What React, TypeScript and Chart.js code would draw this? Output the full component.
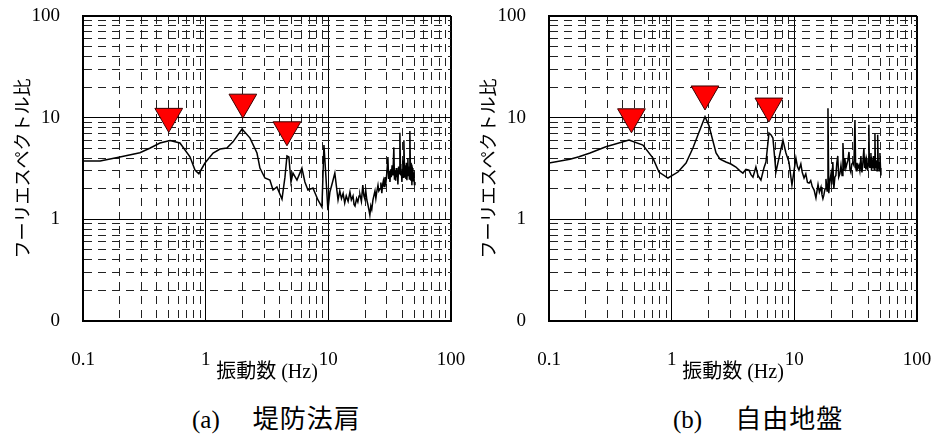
import React, { useEffect, useRef } from 'react';
import { Chart, registerables } from 'chart.js';

Chart.register(...registerables);

// ---- axis / tick data ----
const decadeValues = [0.1, 1, 10, 100];
const xTickLabels = ['0.1', '1', '10', '100'];
const yTickLabels = ['0', '1', '10', '100'];
const xTitle = '振動数 (Hz)';
const yTitle = 'フーリエスペクトル比';
const captionLabelA = '(a)';
const captionTextA = '堤防法肩';
const captionLabelB = '(b)';
const captionTextB = '自由地盤';

// ---- (a) 堤防法肩 ----
const freqA = [0.1, 0.138, 0.2, 0.291, 0.35, 0.424, 0.512, 0.617, 0.745, 0.818,
  0.88, 0.987, 1.15, 1.31, 1.49, 1.67, 1.98, 2.3, 2.62, 2.77,
  3.04, 3.34, 3.54, 3.81, 4.19, 4.43, 4.6, 4.77, 4.96, 5.15,
  5.55, 6.09, 6.44, 6.82, 7.49, 8.23, 8.87, 9.21, 9.56, 9.92,
  10.3, 10.8, 11.3, 11.7, 12.0, 12.4, 12.8, 13.2, 13.6, 14.0,
  14.5, 15.0, 15.4, 15.9, 16.2, 16.5, 17.0, 17.4, 17.8, 18.1,
  18.6, 19.1, 19.5, 19.8, 20.2, 20.6, 21.0, 21.4, 21.8, 22.2,
  22.6, 23.1, 23.5, 24.0, 24.4, 24.8, 25.4, 25.8, 26.4, 26.8,
  27.3, 27.7, 28.1, 28.5, 28.9, 29.5, 30.0, 30.6, 31.0, 31.4,
  31.8, 32.2, 32.6, 33.1, 33.6, 34.2, 34.6, 34.9, 35.4, 35.8,
  36.2, 36.6, 36.9, 37.4, 37.8, 38.3, 38.7, 39.0, 39.4, 39.8,
  40.2, 40.5, 40.9, 41.3, 41.7, 42.1, 42.5, 42.9, 43.3, 43.7,
  44.1, 44.5, 44.9, 45.3, 45.8, 46.2, 46.6, 47.1, 47.5, 48.0,
  48.4, 48.9, 49.3, 49.8, 50.3, 50.8];
const ampA = [3.74, 3.74, 4.1, 4.52, 5.0, 5.63, 5.97, 5.63, 4.12, 3.05,
  2.81, 3.58, 4.49, 4.92, 5.03, 5.78, 7.73, 6.3, 4.49, 3.19,
  2.55, 2.43, 1.94, 2.08, 1.58, 2.6, 4.2, 4.1, 2.33, 2.85,
  2.43, 3.19, 2.33, 1.94, 2.03, 1.55, 1.32, 5.38, 2.6, 1.23,
  1.86, 2.3, 2.85, 2.0, 1.55, 1.9, 1.6, 1.8, 1.45, 1.7,
  1.5, 1.85, 1.55, 1.7, 1.4, 1.35, 1.6, 1.48, 1.7, 1.75,
  1.5, 2.17, 1.7, 1.6, 1.9, 1.55, 1.4, 1.25, 1.1, 1.35,
  1.25, 1.55, 1.7, 1.9, 1.6, 1.85, 2.17, 1.9, 2.0, 2.3,
  1.81, 2.2, 2.4, 2.1, 2.6, 2.3, 2.9, 4.1, 2.5, 3.0,
  2.33, 3.1, 2.6, 3.4, 2.7, 5.1, 2.5, 3.0, 2.4, 3.2,
  2.6, 3.0, 2.2, 3.3, 2.8, 7.1, 3.5, 2.7, 3.0, 2.33,
  3.1, 3.8, 2.6, 6.0, 3.4, 2.6, 3.2, 2.5, 3.6, 2.43,
  3.0, 4.0, 2.7, 3.3, 2.5, 7.4, 3.6, 2.4, 3.4, 2.17,
  3.2, 3.05, 2.4, 2.9, 2.2, 2.33];
const peakFreqA = [0.5, 2.01, 4.6];
const peakMarkA = [10.3, 14.2, 7.6];

// ---- (b) 自由地盤 ----
const freqB = [0.1, 0.148, 0.1756, 0.216, 0.291, 0.449, 0.583, 0.704, 0.788, 0.933,
  1.125, 1.31, 1.49, 1.67, 1.87, 2.01, 2.3, 2.48, 2.77, 3.04,
  3.34, 3.6, 3.81, 4.03, 4.27, 4.43, 4.6, 4.86, 5.05, 5.34,
  5.65, 5.87, 6.21, 6.44, 6.69, 7.08, 7.49, 8.07, 8.54, 9.04,
  9.56,
  10.3, 10.6, 10.9, 11.3, 11.6, 12.0, 12.4, 12.8, 13.2, 13.6,
  14.0, 14.5, 15.0, 15.3, 15.6, 16.0, 16.5, 16.8, 17.1, 17.4,
  17.8, 18.1, 18.5, 18.8, 19.1, 19.5, 19.9, 20.2, 20.6, 21.0,
  21.4, 21.8, 22.2, 22.6, 23.0, 23.5, 24.0, 24.5, 24.9, 25.4,
  25.8, 26.3, 26.8, 27.3, 27.9, 28.4, 28.9, 29.4, 30.0, 30.6,
  31.2, 31.6, 32.0, 32.4, 33.0, 33.6, 34.2, 34.9, 35.3, 35.6,
  36.2, 36.9, 37.4, 37.8, 38.3, 38.7, 39.1, 39.6, 40.0, 40.5,
  40.9, 41.3, 41.7, 42.1, 42.6, 43.1, 43.7, 44.2, 44.8, 45.4,
  45.8, 46.2, 46.7, 47.2, 47.6, 48.0, 48.4, 48.9, 49.4, 49.9,
  50.4, 50.8];
const ampB = [3.58, 3.9, 4.12, 4.49, 5.18, 6.02, 5.38, 4.0, 2.92, 2.55,
  2.92, 3.58, 5.03, 7.2, 10.2, 8.4, 4.5, 3.9, 3.66, 3.5,
  3.27, 3.0, 2.85, 3.1, 3.05, 2.75, 2.6, 3.27, 2.7, 2.43,
  3.2, 3.66, 7.06, 6.8, 6.3, 2.92, 4.0, 6.02, 4.49, 3.66,
  2.17,
  4.0, 3.3, 3.05, 3.5, 2.9, 2.55, 2.8, 2.3, 2.27, 2.4,
  2.1, 1.94, 1.62, 1.9, 2.2, 1.85, 2.08, 1.75, 1.6, 1.73,
  2.0, 2.5, 1.9, 12.4, 1.81, 2.4, 2.8, 2.2, 3.66, 2.0,
  2.6, 2.7, 3.6, 4.2, 2.6, 2.8, 3.4, 2.7, 5.63, 3.0,
  4.0, 3.19, 3.5, 3.8, 4.6, 3.1, 2.9, 3.5, 3.6, 3.4,
  9.5, 3.3, 3.0, 3.6, 3.2, 3.4, 3.0, 4.2, 3.1, 2.9,
  3.6, 5.03, 3.2, 3.6, 3.1, 4.0, 3.8, 3.0, 3.5, 8.5,
  3.4, 3.2, 4.0, 4.5, 3.0, 3.6, 3.19, 4.2, 3.1, 7.0,
  3.4, 3.2, 3.8, 3.0, 3.7, 6.8, 3.2, 3.66, 3.0, 4.5,
  3.2, 2.7];
const peakFreqB = [0.47, 1.87, 6.2];
const peakMarkB = [10.2, 17.1, 13.0];

const serif = '"Liberation Serif", "Times New Roman", "Noto Sans CJK JP", serif';
const gothic = '"Noto Sans CJK JP", "Noto Sans", sans-serif';

function gridValues(): number[] {
  const out: number[] = [];
  for (let d = 0; d < 3; d++) {
    for (let k = 1; k <= 9; k++) out.push(Number((decadeValues[d] * k).toPrecision(3)));
  }
  out.push(decadeValues[3]);
  return out;
}
const majorIndex = (v: number) => decadeValues.findIndex((d) => Math.abs(v - d) < 1e-9);
const isMajor = (v: number) => majorIndex(v) >= 0;

function logAxis(labels: string[], isX: boolean): any {
  return {
    type: 'logarithmic',
    position: isX ? 'bottom' : 'left',
    min: 0.1,
    max: 100,
    afterBuildTicks: (scale: any) => {
      scale.ticks = gridValues().map((v) => ({ value: v, major: false }));
    },
    afterFit: (scale: any) => {
      if (isX) scale.height = 70;
      else scale.width = 83;
      scale.paddingTop = 0;
      scale.paddingBottom = 0;
      scale.paddingLeft = 0;
      scale.paddingRight = 0;
    },
    grid: {
      drawTicks: false,
      color: (c: any) => (c.tick && !isMajor(c.tick.value) ? '#222' : '#000'),
      lineWidth: (c: any) => (c.tick && c.tick.value === 100 ? 2 : 1),
    },
    border: {
      display: true,
      color: '#000',
      width: 2,
      dash: (c: any) => (c.tick && !isMajor(c.tick.value) ? [8, 6] : []),
    },
    ticks: {
      autoSkip: false,
      maxRotation: 0,
      color: '#000',
      padding: isX ? 28 : 23,
      font: { family: serif, size: 19 },
      callback: (v: any) => {
        const i = majorIndex(Number(v));
        return i >= 0 ? labels[i] : '';
      },
    },
    title: isX
      ? { display: true, text: xTitle, color: '#000', font: { family: serif, size: 20 }, padding: { top: 0, bottom: 6 } }
      : { display: true, text: yTitle, color: '#000', font: { family: gothic, size: 18 }, padding: { top: 11, bottom: 0 } },
  };
}

function Panel(props: { freq: number[]; amp: number[]; pf: number[]; pm: number[]; left: number; width: number }) {
  const ref = useRef<HTMLCanvasElement | null>(null);
  useEffect(() => {
    if (!ref.current) return;
    const chart = new Chart(ref.current, {
      type: 'scatter',
      data: {
        datasets: [
          {
            data: props.pf.map((f, i) => ({ x: f, y: props.pm[i] })),
            showLine: false,
            pointStyle: 'triangle',
            rotation: 180,
            pointRadius: 16,
            backgroundColor: '#ff0000',
            borderColor: '#3a0000',
            borderWidth: 1,
            order: 0,
          },
          {
            data: props.freq.map((f, i) => ({ x: f, y: props.amp[i] })),
            showLine: true,
            borderColor: '#000',
            borderWidth: 1.5,
            pointRadius: 0,
            tension: 0,
            order: 1,
          },
        ],
      },
      options: {
        animation: false,
        responsive: false,
        maintainAspectRatio: false,
        devicePixelRatio: 1,
        events: [],
        layout: { autoPadding: false, padding: { left: 0, top: 16, right: props.width - 451, bottom: 4 } },
        plugins: { legend: { display: false }, tooltip: { enabled: false } },
        scales: { x: logAxis(xTickLabels, true), y: logAxis(yTickLabels, false) },
      } as any,
    });
    return () => chart.destroy();
  }, []);
  return (
    <canvas
      ref={ref}
      width={props.width}
      height={395}
      style={{ position: 'absolute', left: props.left, top: 0, width: props.width, height: 395 }}
    />
  );
}

const captionStyle: React.CSSProperties = {
  position: 'absolute',
  top: 405,
  fontFamily: serif,
  lineHeight: '30px',
  color: '#000',
  whiteSpace: 'pre',
};

function Caption(props: { left: number; label: string; text: string }) {
  return (
    <div style={{ ...captionStyle, left: props.left }}>
      <span style={{ fontSize: 25 }}>{props.label}</span>
      <span style={{ fontSize: 26, marginLeft: 33, letterSpacing: 1 }}>{props.text}</span>
    </div>
  );
}

export default function App() {
  return (
    <div style={{ position: 'absolute', left: 0, top: 0, width: 951, height: 439, background: '#fff', overflow: 'hidden' }}>
      <Panel freq={freqA} amp={ampA} pf={peakFreqA} pm={peakMarkA} left={0} width={480} />
      <Panel freq={freqB} amp={ampB} pf={peakFreqB} pm={peakMarkB} left={466} width={480} />
      <Caption left={192} label={captionLabelA} text={captionTextA} />
      <Caption left={673} label={captionLabelB} text={captionTextB} />
    </div>
  );
}
